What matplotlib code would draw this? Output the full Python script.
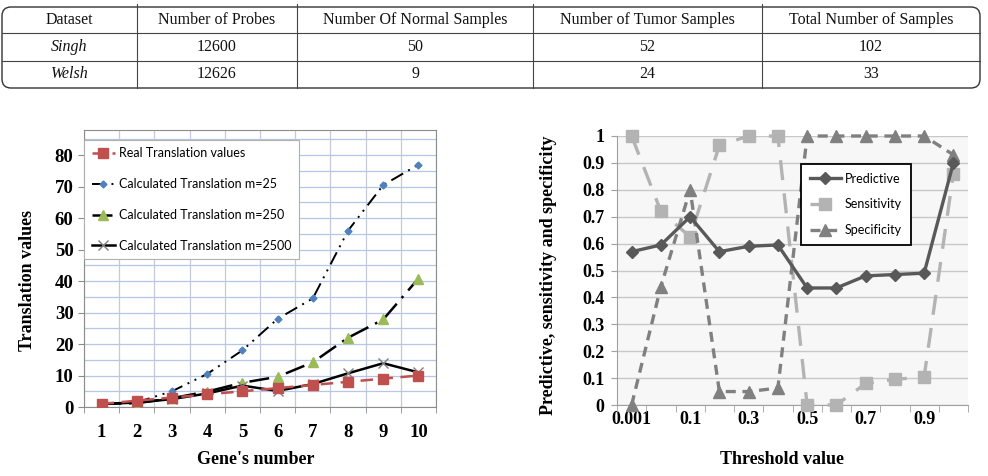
import numpy as np
import matplotlib.pyplot as plt
from matplotlib.patches import FancyBboxPatch

# table data
table_header = ["Dataset", "Number of Probes", "Number Of Normal Samples",
                "Number of Tumor Samples", "Total Number of Samples"]
datasets = ["Singh", "Welsh"]
probes = [12600, 12626]
normal = [50, 9]
tumor = [52, 24]
total = [102, 33]

# left chart: translation values per gene
genes = np.arange(1, 11)
real_vals = [1, 2, 3, 4, 5, 6, 7, 8, 9, 10]
m25 = [1, 1.5, 5, 10.5, 18, 28, 34.5, 56, 70.5, 77]
m250 = [1, 1.2, 2.8, 4.9, 7.7, 9.6, 14.2, 22, 27.8, 40.8]
m2500 = [1, 1.4, 2.5, 4.3, 6.8, 5.1, 7.3, 10.7, 13.9, 11]

# right chart: measures vs threshold
thresholds = ["0.001", "0.01", "0.1", "0.2", "0.3", "0.4",
              "0.5", "0.6", "0.7", "0.8", "0.9", "1"]
predictive = [0.57, 0.595, 0.70, 0.57, 0.59, 0.595, 0.435, 0.435, 0.48, 0.485, 0.49, 0.90]
sensitivity = [1.0, 0.72, 0.625, 0.965, 1.0, 1.0, 0.0, 0.0, 0.08, 0.095, 0.105, 0.86]
specificity = [0.0, 0.44, 0.80, 0.05, 0.05, 0.063, 1.0, 1.0, 1.0, 1.0, 1.0, 0.93]

W, H = 988, 476
fig = plt.figure(figsize=(W / 100, H / 100), dpi=100)
fig.patch.set_facecolor('white')

serif = 'Liberation Serif'
sans = 'Lato'

# ---- table ----
tab = fig.add_axes([0, 0, 1, 1], zorder=0)
tab.set_xlim(0, W)
tab.set_ylim(H, 0)
tab.axis('off')
col_x = [2, 137, 297, 533, 762, 980]
row_y = [7, 33, 61, 88]
tab.add_patch(FancyBboxPatch((col_x[0], row_y[0]), col_x[-1] - col_x[0], row_y[-1] - row_y[0],
                             boxstyle="round,pad=0,rounding_size=9", fc='none', ec='#333333', lw=1.0))
for x in col_x[1:-1]:
    tab.plot([x, x], [row_y[0] - 3, row_y[-1]], color='#444444', lw=0.8)
for y in row_y[1:-1]:
    tab.plot([col_x[0], col_x[-1]], [y, y], color='#444444', lw=0.8)
rows = [table_header] + [[datasets[i], probes[i], normal[i], tumor[i], total[i]] for i in range(len(datasets))]
for r, row in enumerate(rows):
    yc = (row_y[r] + row_y[r + 1]) / 2
    for c, val in enumerate(row):
        xc = (col_x[c] + col_x[c + 1]) / 2
        style = 'italic' if (r > 0 and c == 0) else 'normal'
        tab.text(xc, yc, str(val), ha='center', va='center', family=serif,
                 fontsize=11.5, style=style, color='#111111')

# ---- left chart ----
ax1 = fig.add_axes([84 / W, 1 - 407 / H, 352 / W, 277 / H])
ax1.set_xlim(0.5, 10.5)
ax1.set_ylim(0, 88)
ax1.set_yticks(np.arange(0, 81, 10))
ax1.set_yticks(np.arange(5, 86, 10), minor=True)
ax1.set_xticks(genes)
ax1.set_xticks(np.arange(0.5, 11, 1), minor=True)
ax1.grid(True, which='both', axis='y', color='#b4c7e7', lw=0.9)
ax1.grid(True, which='minor', axis='x', color='#c5cad6', lw=0.9)
ax1.set_axisbelow(True)
for s in ax1.spines.values():
    s.set_color('#8c8c8c')
ax1.tick_params(axis='both', which='both', color='#8c8c8c', length=4)
ax1.tick_params(axis='x', which='major', length=0, pad=12)
ax1.tick_params(axis='y', which='minor', length=0)
for lab in ax1.get_xticklabels() + ax1.get_yticklabels():
    lab.set_family(serif)
    lab.set_fontweight('bold')
    lab.set_fontsize(13.5)

ax1.plot(genes, m25, color='black', lw=1.4, ls=(0, (7, 3, 1, 3, 1, 3)), marker='D',
         ms=3.5, mfc='#4f81bd', mec='#4f81bd', label='Calculated Translation m=25', zorder=3)
ax1.plot(genes, m250, color='black', lw=1.8, ls=(0, (8, 3, 1, 3)), marker='^',
         ms=7, mfc='#9bbb59', mec='#9bbb59', label='Calculated Translation m=250', zorder=3)
ax1.plot(genes, m2500, color='black', lw=1.8, ls='-', marker='x',
         ms=7, mec='#7f7f7f', mew=1.0, label='Calculated Translation m=2500', zorder=3)
ax1.plot(genes, real_vals, color='#c0504d', lw=1.8, ls=(0, (5, 3)), marker='s',
         ms=6.5, mfc='#c0504d', mec='#c0504d', label='Real Translation values', zorder=4)

handles, labels = ax1.get_legend_handles_labels()
order = [3, 0, 1, 2]
leg1 = ax1.legend([handles[i] for i in order], [labels[i] for i in order],
                  loc='upper left', bbox_to_anchor=(0, 0.964), borderaxespad=0,
                  prop={'family': sans, 'size': 9}, frameon=True, fancybox=False,
                  edgecolor='#b0b0b0', framealpha=1, labelspacing=1.5,
                  handlelength=1.9, handletextpad=0.3, borderpad=0.6)
leg1.get_frame().set_linewidth(0.8)

fig.text(27 / W, 1 - 280 / H, 'Translation values', rotation=90, ha='center', va='center',
         family=serif, fontweight='bold', fontsize=13)
fig.text(256 / W, 1 - 460 / H, "Gene's number", ha='center', va='center',
         family=serif, fontweight='bold', fontsize=13)

# ---- right chart ----
ax2 = fig.add_axes([617 / W, 1 - 405 / H, 351 / W, 269 / H])
ax2.set_facecolor('#f7f7f7')
xi = np.arange(len(thresholds))
ax2.set_xlim(-0.5, len(thresholds) - 0.5)
ax2.set_ylim(0, 1.0)
ax2.set_yticks(np.arange(0, 1.01, 0.1))
ax2.set_yticklabels(['0'] + ['%.1f' % v for v in np.arange(0.1, 0.95, 0.1)] + ['1'])
ax2.set_xticks(xi[::2])
ax2.set_xticklabels(thresholds[::2])
ax2.set_xticks(np.arange(-0.5, len(thresholds), 1), minor=True)
ax2.grid(True, axis='y', color='#c8c8c8', lw=1.0)
ax2.set_axisbelow(True)
ax2.spines['top'].set_visible(False)
ax2.spines['right'].set_visible(False)
ax2.spines['left'].set_color('#a0a0a0')
ax2.spines['bottom'].set_color('#a0a0a0')
ax2.tick_params(axis='x', which='major', length=0, pad=4)
ax2.tick_params(axis='x', which='minor', length=5, color='#a0a0a0')
ax2.tick_params(axis='y', length=4, color='#a0a0a0', pad=5)
for lab in ax2.get_xticklabels() + ax2.get_yticklabels():
    lab.set_family(serif)
    lab.set_fontweight('bold')
    lab.set_fontsize(13)

ax2.plot(xi, predictive, color='#595959', lw=2.4, marker='D', ms=6,
         label='Predictive', clip_on=False, zorder=4)
ax2.plot(xi, sensitivity, color='#b3b3b3', lw=2.4, ls=(0, (6, 4)), marker='s', ms=9,
         label='Sensitivity', clip_on=False, zorder=3)
ax2.plot(xi, specificity, color='#808080', lw=2.4, ls=(0, (3, 2)), marker='^', ms=8,
         label='Specificity', clip_on=False, zorder=3)
leg2 = ax2.legend(loc='upper left', bbox_to_anchor=((801 - 617) / 351, (405 - 164) / 269),
                  borderaxespad=0, prop={'family': sans, 'size': 9}, frameon=True,
                  fancybox=False, edgecolor='black', framealpha=1, labelspacing=1.1,
                  handlelength=2.5, handletextpad=0.3, borderpad=0.7)
leg2.get_frame().set_linewidth(1.3)

fig.text(548 / W, 1 - 275 / H, 'Predictive, sensitivity and specificity', rotation=90,
         ha='center', va='center', family=serif, fontweight='bold', fontsize=13)
fig.text(782 / W, 1 - 460 / H, 'Threshold value', ha='center', va='center',
         family=serif, fontweight='bold', fontsize=13)

fig.savefig('out.png', dpi=100)
